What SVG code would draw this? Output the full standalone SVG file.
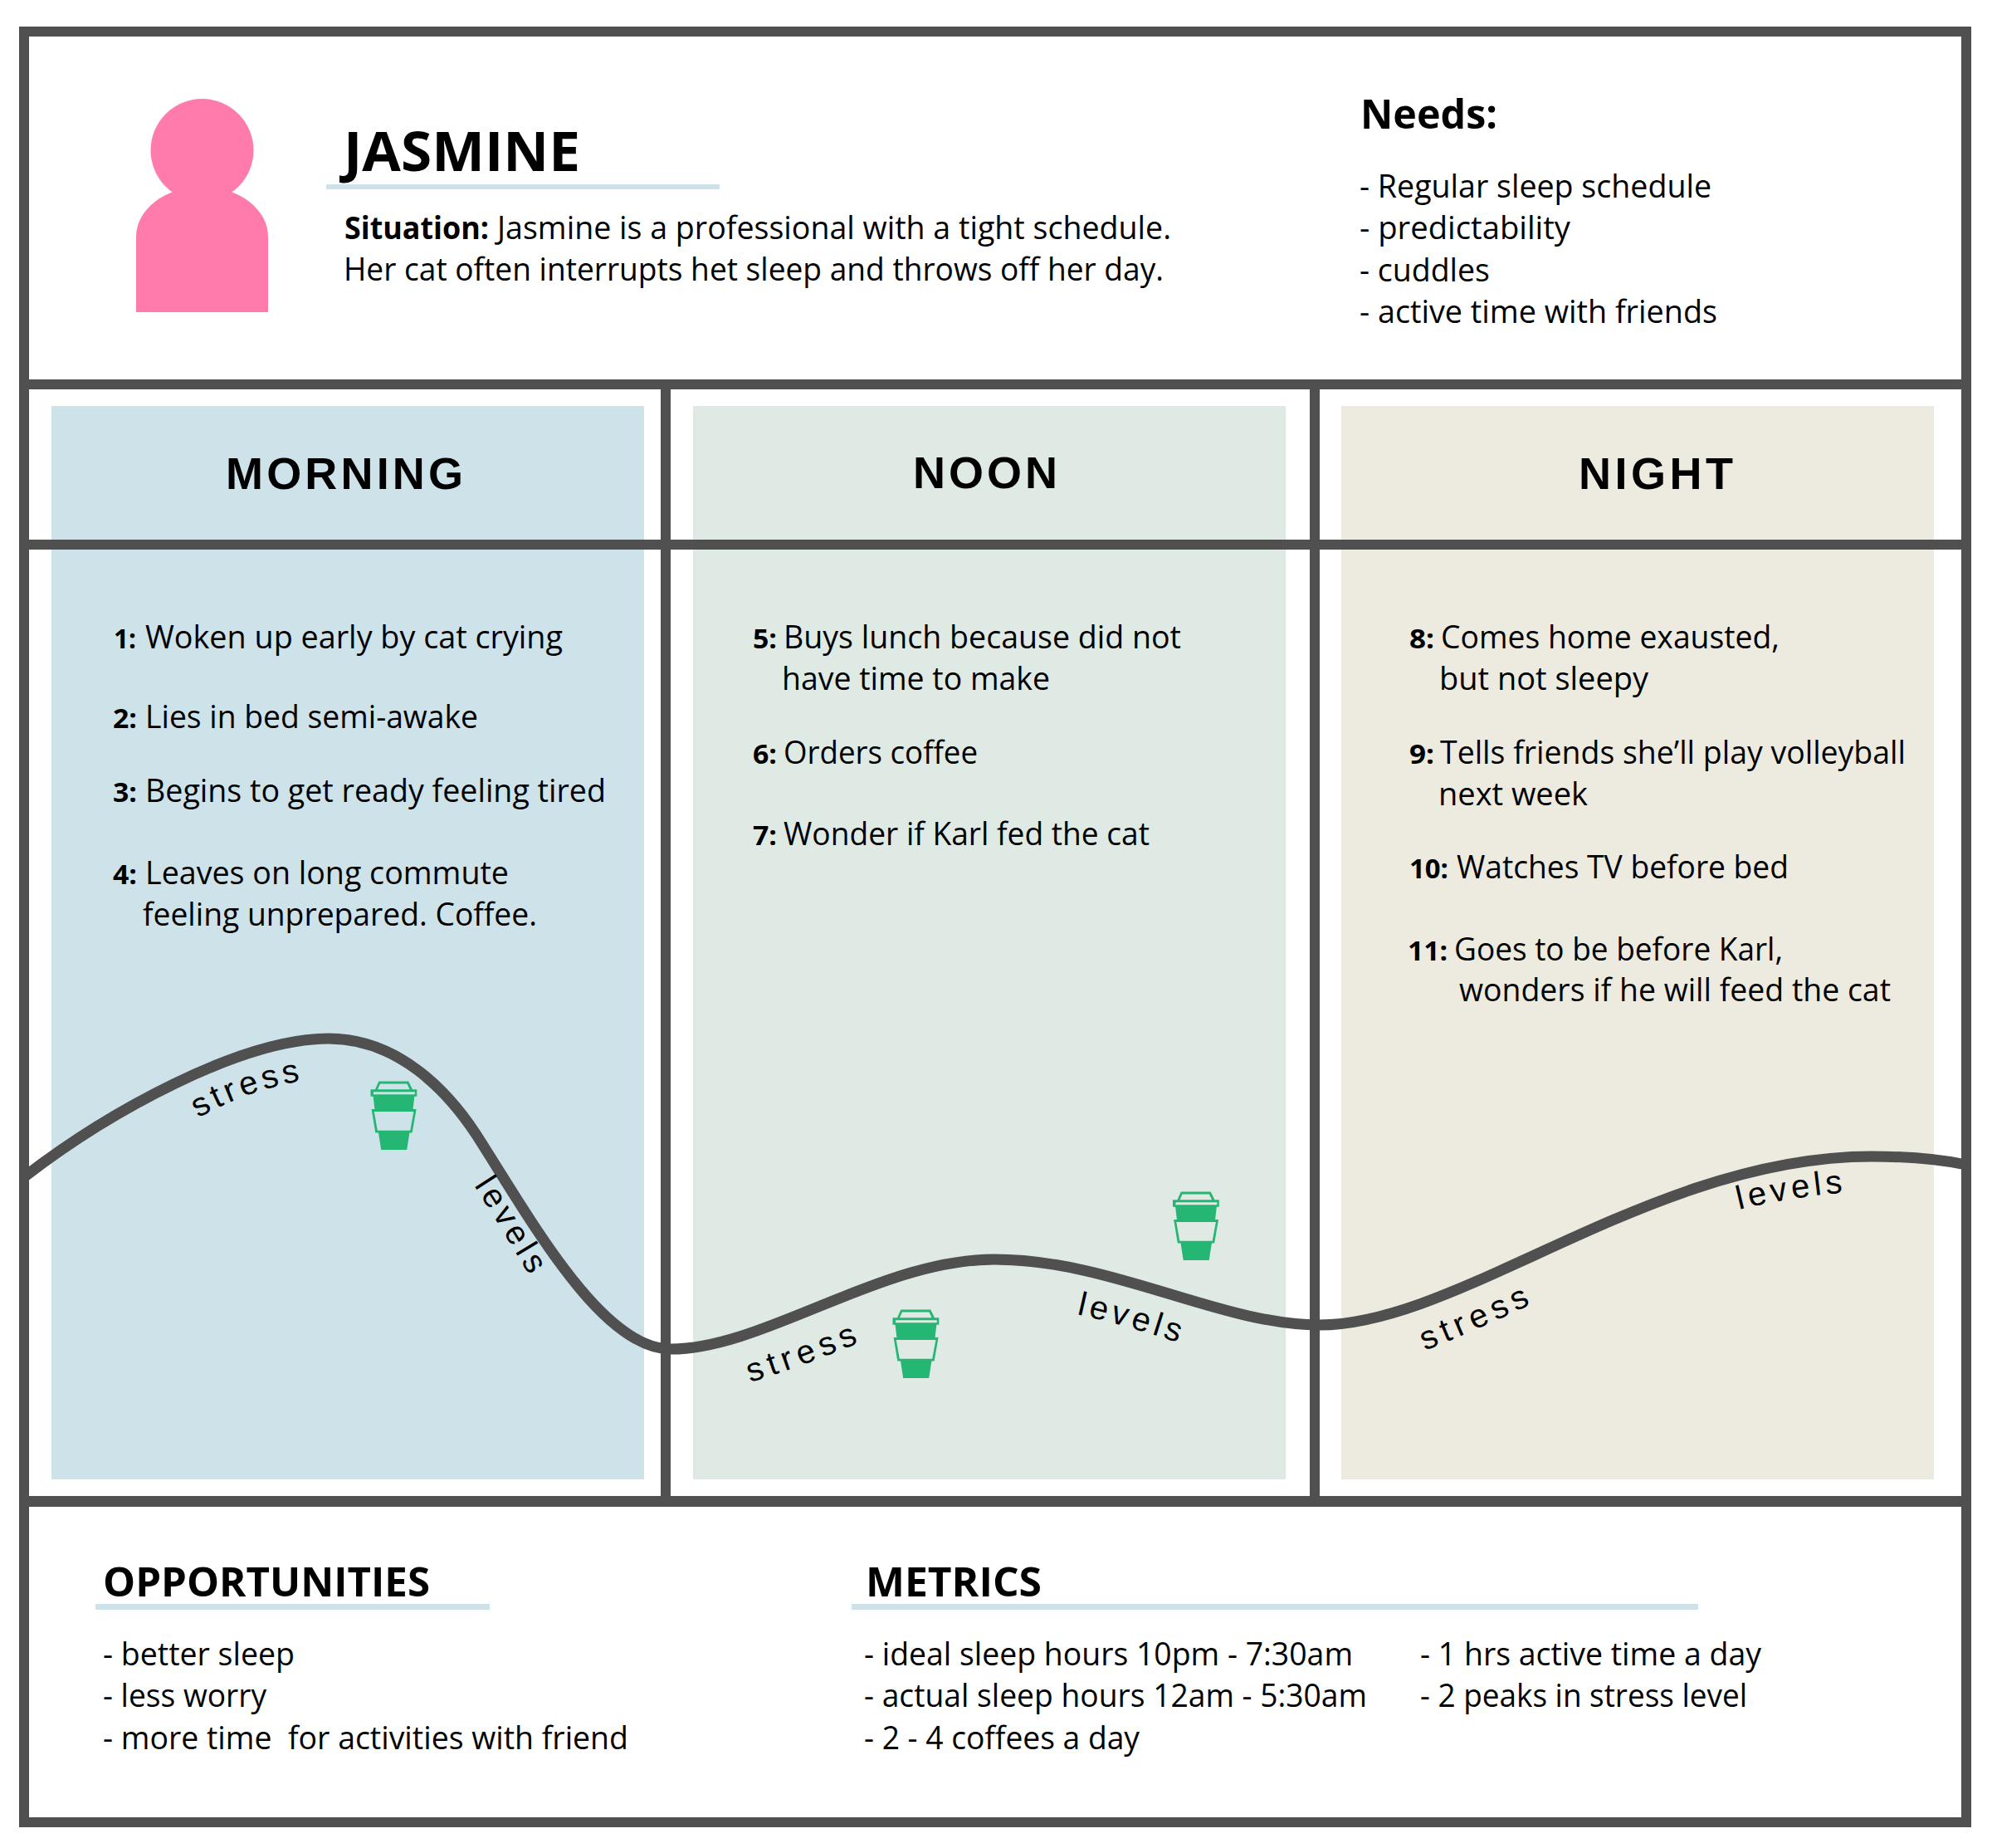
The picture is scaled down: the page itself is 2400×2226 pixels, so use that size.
<svg xmlns="http://www.w3.org/2000/svg" xmlns:xlink="http://www.w3.org/1999/xlink" width="2400" height="2226" viewBox="0 0 2400 2226">
<style>
text{font-family:"Open Sans","Noto Sans",sans-serif;font-size:38px;fill:#000}
.b{font-weight:700}
.n{font-weight:700;font-size:32px}
.h2{font-weight:700;font-size:49px}
.t{font-family:"Liberation Sans",Arial,sans-serif;font-weight:700;font-size:54px}
.c{font-family:"Liberation Sans",Arial,sans-serif;font-size:40px;letter-spacing:6.5px}
.l{letter-spacing:5px}
.frame{fill:#505050}
.ul{fill:#cee2ea}
.cup{fill:#25b673}
</style>
<defs>
<g id="cupIcon">
<path class="cup" fill-rule="evenodd" d="M56.3 32.6H92.2L97 42.3H102.3V50.7H99.3L97.6 66H101.6L96.6 94.6H93.4L90.2 115H59.2L56 94.6H52.3L47.6 66H51.4L49.6 50.7H46.5V42.3H52ZM58 35.4L55 42.3H93.6L90.4 35.4ZM50 45.3V48.3H99.8V45.3ZM50.8 69L54.8 91.8H94.2L98.4 69Z"/>
</g>
<path id="ps1" d="M239 1347Q298 1312 375 1300"/>
<path id="pl1" d="M571 1428Q602 1476 640 1540"/>
<path id="ps2" d="M904 1665Q970 1645 1048 1612"/>
<path id="pl2" d="M1297 1583Q1360 1597 1430 1621"/>
<path id="ps3" d="M1717 1627Q1782 1601 1855 1566"/>
<path id="pl3" d="M2095 1457Q2156 1442 2226 1436"/>
</defs>
<rect width="2400" height="2226" fill="#fff"/>
<g id="panels">
<rect id="panel-morning" x="62" y="489" width="714" height="1293" fill="#cee2ea"/>
<rect id="panel-noon" x="835" y="489" width="714" height="1293" fill="#e0eae4"/>
<rect id="panel-night" x="1616" y="489" width="714" height="1293" fill="#edebe0"/>
</g>
<g id="frame">
<path class="frame" fill-rule="evenodd" d="M23 32H2375V2201H23ZM35 44V2189H2363V44Z"/>
<rect class="frame" x="23" y="457" width="2352" height="12"/>
<rect class="frame" x="23" y="650" width="2352" height="12"/>
<rect class="frame" x="23" y="1802" width="2352" height="13"/>
<rect class="frame" x="796" y="457" width="12" height="1350"/>
<rect class="frame" x="1578" y="457" width="12" height="1350"/>
</g>
<g id="connectors">
<path id="stress-curve" fill="none" stroke="#505050" stroke-width="13" d="M30 1417C130 1340 290 1251 396 1251C478 1251 538 1312 574 1367C640 1470 725 1625 808 1625C920 1625 1060 1517 1198 1517C1340 1517 1470 1596 1590 1596C1760 1596 1990 1393 2255 1393C2295 1393 2335 1396 2369 1403"/>
</g>
<g id="persona">
<ellipse cx="243.5" cy="181" rx="62" ry="62" fill="#ff7bac"/>
<path fill="#ff7bac" d="M164 376V285A79.5 60 0 0 1 323 285V376Z"/>
</g>
<g id="header">
<text class="b" x="414" y="206" style="font-size:67px" textLength="285" lengthAdjust="spacingAndGlyphs">JASMINE</text>
<rect class="ul" x="393" y="222" width="474" height="6"/>
<text class="b" x="415" y="288" textLength="174" lengthAdjust="spacingAndGlyphs">Situation:</text>
<text x="599" y="288" textLength="812" lengthAdjust="spacingAndGlyphs">Jasmine is a professional with a tight schedule.</text>
<text x="414" y="338" textLength="988" lengthAdjust="spacingAndGlyphs">Her cat often interrupts het sleep and throws off her day.</text>
</g>
<g id="needs">
<text class="b" x="1639" y="155" style="font-size:49px" textLength="165" lengthAdjust="spacingAndGlyphs">Needs:</text>
<text x="1638" y="238" textLength="424" lengthAdjust="spacingAndGlyphs">- Regular sleep schedule</text>
<text x="1638" y="288" textLength="254" lengthAdjust="spacingAndGlyphs">- predictability</text>
<text x="1638" y="339" textLength="157" lengthAdjust="spacingAndGlyphs">- cuddles</text>
<text x="1638" y="389" textLength="431" lengthAdjust="spacingAndGlyphs">- active time with friends</text>
</g>
<g id="morning">
<text class="t" x="272" y="589" textLength="286">MORNING</text>
<text class="n" x="137" y="781" textLength="27" lengthAdjust="spacingAndGlyphs">1:</text>
<text x="175" y="781" textLength="503" lengthAdjust="spacingAndGlyphs">Woken up early by cat crying</text>
<text class="n" x="136" y="877" textLength="29" lengthAdjust="spacingAndGlyphs">2:</text>
<text x="175" y="877" textLength="401" lengthAdjust="spacingAndGlyphs">Lies in bed semi-awake</text>
<text class="n" x="136" y="966" textLength="29" lengthAdjust="spacingAndGlyphs">3:</text>
<text x="175" y="966" textLength="555" lengthAdjust="spacingAndGlyphs">Begins to get ready feeling tired</text>
<text class="n" x="136" y="1065" textLength="29" lengthAdjust="spacingAndGlyphs">4:</text>
<text x="175" y="1065" textLength="438" lengthAdjust="spacingAndGlyphs">Leaves on long commute</text>
<text x="172" y="1115" textLength="475" lengthAdjust="spacingAndGlyphs">feeling unprepared. Coffee.</text>
</g>
<g id="noon">
<text class="t" x="1100" y="588" textLength="174">NOON</text>
<text class="n" x="907" y="781" textLength="29" lengthAdjust="spacingAndGlyphs">5:</text>
<text x="944" y="781" textLength="479" lengthAdjust="spacingAndGlyphs">Buys lunch because did not</text>
<text x="942" y="831" textLength="323" lengthAdjust="spacingAndGlyphs">have time to make</text>
<text class="n" x="907" y="920" textLength="29" lengthAdjust="spacingAndGlyphs">6:</text>
<text x="944" y="920" textLength="234" lengthAdjust="spacingAndGlyphs">Orders coffee</text>
<text class="n" x="907" y="1018" textLength="29" lengthAdjust="spacingAndGlyphs">7:</text>
<text x="944" y="1018" textLength="441" lengthAdjust="spacingAndGlyphs">Wonder if Karl fed the cat</text>
</g>
<g id="night">
<text class="t" x="1902" y="589" textLength="186">NIGHT</text>
<text class="n" x="1698" y="781" textLength="30" lengthAdjust="spacingAndGlyphs">8:</text>
<text x="1736" y="781" textLength="408" lengthAdjust="spacingAndGlyphs">Comes home exausted,</text>
<text x="1734" y="831" textLength="252" lengthAdjust="spacingAndGlyphs">but not sleepy</text>
<text class="n" x="1698" y="920" textLength="30" lengthAdjust="spacingAndGlyphs">9:</text>
<text x="1735" y="920" textLength="561" lengthAdjust="spacingAndGlyphs">Tells friends she’ll play volleyball</text>
<text x="1733" y="970" textLength="180" lengthAdjust="spacingAndGlyphs">next week</text>
<text class="n" x="1698" y="1058" textLength="47" lengthAdjust="spacingAndGlyphs">10:</text>
<text x="1755" y="1058" textLength="400" lengthAdjust="spacingAndGlyphs">Watches TV before bed</text>
<text class="n" x="1696" y="1157" textLength="48" lengthAdjust="spacingAndGlyphs">11:</text>
<text x="1752" y="1157" textLength="396" lengthAdjust="spacingAndGlyphs">Goes to be before Karl,</text>
<text x="1758" y="1206" textLength="520" lengthAdjust="spacingAndGlyphs">wonders if he will feed the cat</text>
</g>
<g id="cups">
<use id="cup1" xlink:href="#cupIcon" href="#cupIcon" x="400" y="1270"/>
<use id="cup2" xlink:href="#cupIcon" href="#cupIcon" x="1029" y="1545"/>
<use id="cup3" xlink:href="#cupIcon" href="#cupIcon" x="1366.5" y="1403"/>
</g>
<g id="curve-labels">
<text class="c l"><textPath href="#ps1" xlink:href="#ps1">stress</textPath></text>
<text class="c l"><textPath href="#pl1" xlink:href="#pl1">levels</textPath></text>
<text class="c"><textPath href="#ps2" xlink:href="#ps2">stress</textPath></text>
<text class="c l"><textPath href="#pl2" xlink:href="#pl2">levels</textPath></text>
<text class="c"><textPath href="#ps3" xlink:href="#ps3">stress</textPath></text>
<text class="c l"><textPath href="#pl3" xlink:href="#pl3">levels</textPath></text>
</g>
<g id="opportunities">
<text class="h2" x="124" y="1923" textLength="394" lengthAdjust="spacingAndGlyphs">OPPORTUNITIES</text>
<rect class="ul" x="115" y="1932" width="475" height="7"/>
<text x="124" y="2006" textLength="231" lengthAdjust="spacingAndGlyphs">- better sleep</text>
<text x="124" y="2056" textLength="197" lengthAdjust="spacingAndGlyphs">- less worry</text>
<text x="124" y="2107" textLength="633" lengthAdjust="spacingAndGlyphs" xml:space="preserve">- more time  for activities with friend</text>
</g>
<g id="metrics">
<text class="h2" x="1043" y="1923" textLength="212" lengthAdjust="spacingAndGlyphs">METRICS</text>
<rect class="ul" x="1026" y="1932" width="1020" height="7"/>
<text x="1041" y="2006" textLength="589" lengthAdjust="spacingAndGlyphs">- ideal sleep hours 10pm - 7:30am</text>
<text x="1041" y="2056" textLength="606" lengthAdjust="spacingAndGlyphs">- actual sleep hours 12am - 5:30am</text>
<text x="1041" y="2107" textLength="332" lengthAdjust="spacingAndGlyphs">- 2 - 4 coffees a day</text>
<text x="1711" y="2006" textLength="411" lengthAdjust="spacingAndGlyphs">- 1 hrs active time a day</text>
<text x="1711" y="2056" textLength="394" lengthAdjust="spacingAndGlyphs">- 2 peaks in stress level</text>
</g>
</svg>
